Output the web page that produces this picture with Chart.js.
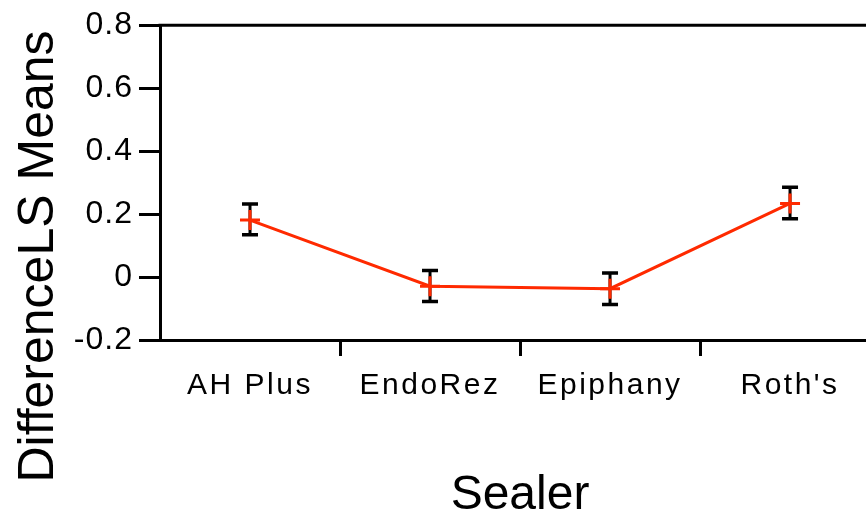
<!DOCTYPE html>
<html>
<head>
<meta charset="utf-8">
<script src="https://cdn.jsdelivr.net/npm/chart.js@4/dist/chart.umd.min.js"></script>
<style>
  html, body { margin: 0; padding: 0; background: #fff; overflow: hidden; }
  canvas { display: block; }
</style>
</head>
<body>
<canvas id="c" width="866" height="516" style="width:866px;height:516px"></canvas>
<script>
const categories = ["AH Plus", "EndoRez", "Epiphany", "Roth's"];
const lsMeans = [0.181, -0.029, -0.037, 0.234];
const lowerBar = [0.134, -0.078, -0.087, 0.185];
const upperBar = [0.232, 0.021, 0.013, 0.285];
const yTickValues = [-0.2, 0, 0.2, 0.4, 0.6, 0.8];
const xTitle = "Sealer";
const yTitle = "DifferenceLS Means";

const FONT = "'Liberation Sans', Arial, sans-serif";
const RED = '#ff2a00';

const spacingPlugin = {
  id: 'spacing',
  beforeDraw(chart) {
    const spacing = { x: '2.5px', y: '1px' };
    for (const id of Object.keys(spacing)) {
      const s = chart.scales[id];
      if (s && !s._wrappedLabels) {
        const orig = s.drawLabels.bind(s);
        s.drawLabels = function (area) {
          const ctx = this.ctx;
          ctx.save();
          ctx.letterSpacing = spacing[id];
          orig(area);
          ctx.restore();
          ctx.letterSpacing = '0px';
        };
        s._wrappedLabels = true;
      }
    }
  }
};

const errorBarPlugin = {
  id: 'errorBars',
  beforeDatasetsDraw(chart) {
    const { ctx, scales: { x, y } } = chart;
    ctx.save();
    ctx.strokeStyle = '#000';
    const half = 8;
    categories.forEach((c, i) => {
      const px = x.getPixelForValue(i);
      const yt = y.getPixelForValue(upperBar[i]);
      const yb = y.getPixelForValue(lowerBar[i]);
      ctx.lineWidth = 3;
      ctx.beginPath();
      ctx.moveTo(px, yt); ctx.lineTo(px, yb);
      ctx.stroke();
      ctx.lineWidth = 3.5;
      ctx.beginPath();
      ctx.moveTo(px - half, yt); ctx.lineTo(px + half, yt);
      ctx.moveTo(px - half, yb); ctx.lineTo(px + half, yb);
      ctx.stroke();
    });
    ctx.restore();
  },
  afterDraw(chart) {
    const { ctx, chartArea: a } = chart;
    ctx.save();
    ctx.strokeStyle = '#000';
    ctx.lineWidth = 3;
    ctx.beginPath();
    ctx.moveTo(a.left - 1.5, a.top);
    ctx.lineTo(chart.width, a.top);
    ctx.stroke();
    ctx.fillStyle = '#000';
    ctx.letterSpacing = '0px';
    ctx.font = '48px ' + FONT;
    ctx.textAlign = 'center';
    ctx.textBaseline = 'alphabetic';
    const x = chart.scales.x;
    const cx = (x.getPixelForValue(-0.5) + x.getPixelForValue(categories.length - 0.5)) / 2;
    ctx.fillText(xTitle, cx, 509);
    ctx.translate(53, 256.5);
    ctx.rotate(-Math.PI / 2);
    ctx.font = '50px ' + FONT;
    ctx.fillText(yTitle, 0, 0);
    ctx.restore();
  }
};

new Chart(document.getElementById('c'), {
  type: 'line',
  data: {
    datasets: [{
      data: lsMeans.map((v, i) => ({ x: i, y: v })),
      borderColor: RED,
      backgroundColor: RED,
      borderWidth: 3,
      pointStyle: 'cross',
      pointRadius: 10,
      pointBorderWidth: 3,
      pointBorderColor: RED,
      tension: 0,
      fill: false
    }]
  },
  options: {
    responsive: false,
    animation: false,
    devicePixelRatio: 1,
    layout: { autoPadding: false, padding: { top: 25, right: 0, left: 0, bottom: 0 } },
    plugins: { legend: { display: false }, tooltip: { enabled: false } },
    scales: {
      x: {
        type: 'linear',
        min: -0.5,
        max: 3.422,
        afterBuildTicks(scale) { scale.ticks = categories.map((c, i) => ({ value: i })); },
        grid: {
          offset: true,
          drawOnChartArea: false,
          drawTicks: true,
          tickLength: 16,
          tickWidth: 3,
          tickColor: (ctx) => ctx.index === 0 ? 'rgba(0,0,0,0)' : '#000'
        },
        border: { display: true, color: '#000', width: 3 },
        ticks: {
          color: '#000',
          font: { family: FONT, size: 30 },
          padding: 12,
          maxRotation: 0,
          autoSkip: false,
          callback: (v) => categories[v]
        },
        afterFit(scale) { scale.height = 176; }
      },
      y: {
        min: -0.2,
        max: 0.8,
        afterBuildTicks(scale) { scale.ticks = yTickValues.map(v => ({ value: v })); },
        grid: {
          drawOnChartArea: false,
          drawTicks: true,
          tickLength: 21,
          tickWidth: 3,
          tickColor: '#000'
        },
        border: { display: true, color: '#000', width: 3 },
        ticks: {
          color: '#000',
          font: { family: FONT, size: 32 },
          padding: 6,
          callback: (v) => String(Math.round(v * 10) / 10)
        },
        afterFit(scale) { scale.width = 160; }
      }
    }
  },
  plugins: [spacingPlugin, errorBarPlugin]
});
</script>
</body>
</html>
